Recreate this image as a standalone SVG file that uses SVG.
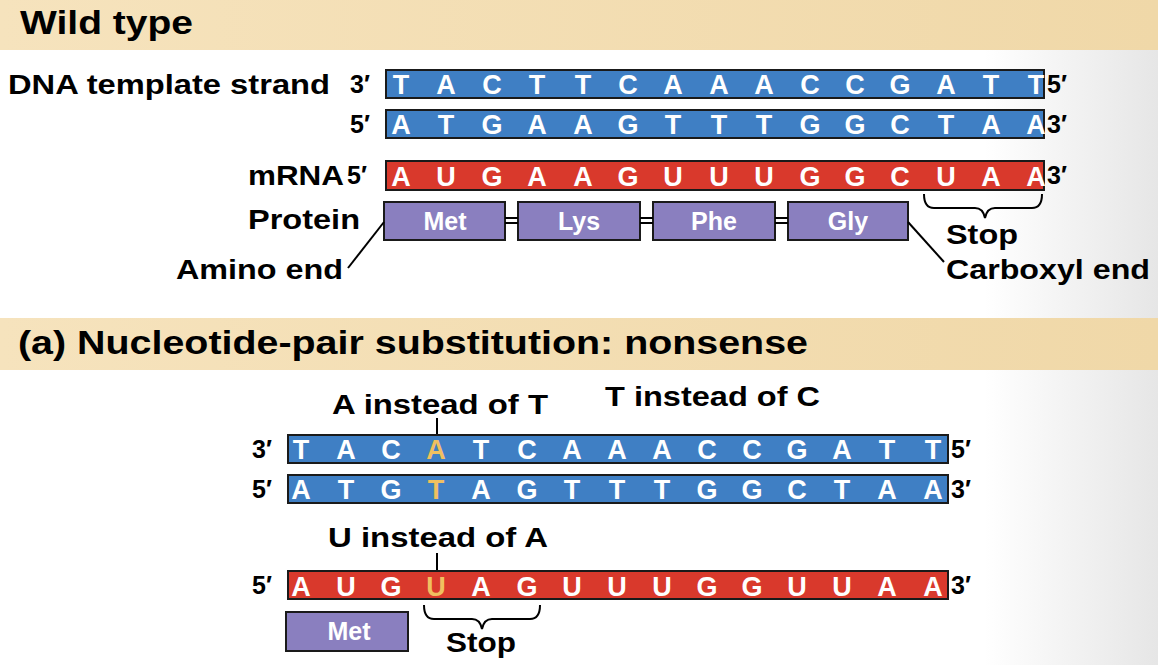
<svg xmlns="http://www.w3.org/2000/svg" width="1158" height="665" viewBox="0 0 1158 665">
<defs>
<linearGradient id="bg" x1="0" x2="1"><stop offset="0" stop-color="#ffffff"/><stop offset="0.85" stop-color="#ffffff"/><stop offset="1" stop-color="#e6e6e6"/></linearGradient>
<linearGradient id="hb" x1="0" x2="1"><stop offset="0" stop-color="#f6e3bd"/><stop offset="1" stop-color="#f0d8a8"/></linearGradient>
</defs>
<style>
text{font-family:"Liberation Sans",Arial,sans-serif;font-weight:bold}
.hd{font-size:34px;fill:#000}
.lb{font-size:28px;fill:#000}
.end{font-size:25px;fill:#000}
.dna{fill:#3f7fc4;stroke:#1a1a1a;stroke-width:2}
.rna{fill:#d9392c;stroke:#1a1a1a;stroke-width:2}
.pr{fill:#8a7fbf;stroke:#1a1a1a;stroke-width:2}
.seq{font-size:27px;fill:#fff;text-anchor:middle}
.pt{font-size:25px;fill:#fff;text-anchor:middle}
.hl{fill:#f0c060}
.ln{stroke:#000;stroke-width:2;fill:none}
</style>
<rect width="1158" height="665" fill="url(#bg)"/>
<rect x="0" y="0" width="1158" height="50" fill="url(#hb)"/>
<text class="hd" x="20" y="34" textLength="173" lengthAdjust="spacingAndGlyphs">Wild type</text>
<rect x="0" y="318" width="1158" height="52" fill="url(#hb)"/>
<text class="hd" x="18" y="354" textLength="790" lengthAdjust="spacingAndGlyphs">(a) Nucleotide-pair substitution: nonsense</text>

<g id="wt-template">
<text class="lb" x="8" y="94" textLength="322" lengthAdjust="spacingAndGlyphs">DNA template strand</text>
<text class="end" x="350" y="93">3′</text>
<rect class="dna" x="386" y="70" width="658" height="28"/>
<text class="seq" y="94"><tspan x="401">T</tspan><tspan x="446">A</tspan><tspan x="492">C</tspan><tspan x="537">T</tspan><tspan x="583">T</tspan><tspan x="628">C</tspan><tspan x="673">A</tspan><tspan x="719">A</tspan><tspan x="764">A</tspan><tspan x="810">C</tspan><tspan x="855">C</tspan><tspan x="900">G</tspan><tspan x="946">A</tspan><tspan x="991">T</tspan><tspan x="1036">T</tspan></text>
<text class="end" x="1047" y="93">5′</text>
</g>
<g id="wt-coding">
<text class="end" x="350" y="133">5′</text>
<rect class="dna" x="386" y="110" width="658" height="28"/>
<text class="seq" y="134"><tspan x="401">A</tspan><tspan x="446">T</tspan><tspan x="492">G</tspan><tspan x="537">A</tspan><tspan x="583">A</tspan><tspan x="628">G</tspan><tspan x="673">T</tspan><tspan x="719">T</tspan><tspan x="764">T</tspan><tspan x="810">G</tspan><tspan x="855">G</tspan><tspan x="900">C</tspan><tspan x="946">T</tspan><tspan x="991">A</tspan><tspan x="1036">A</tspan></text>
<text class="end" x="1047" y="133">3′</text>
</g>
<g id="wt-mrna">
<text class="lb" x="248" y="185" textLength="96" lengthAdjust="spacingAndGlyphs">mRNA</text>
<text class="end" x="347" y="184">5′</text>
<rect class="rna" x="386" y="161" width="658" height="29"/>
<text class="seq" y="186"><tspan x="401">A</tspan><tspan x="446">U</tspan><tspan x="492">G</tspan><tspan x="537">A</tspan><tspan x="583">A</tspan><tspan x="628">G</tspan><tspan x="673">U</tspan><tspan x="719">U</tspan><tspan x="764">U</tspan><tspan x="810">G</tspan><tspan x="855">G</tspan><tspan x="900">C</tspan><tspan x="946">U</tspan><tspan x="991">A</tspan><tspan x="1036">A</tspan></text>
<text class="end" x="1047" y="184">3′</text>
</g>
<g id="wt-protein">
<text class="lb" x="248" y="229" textLength="112" lengthAdjust="spacingAndGlyphs">Protein</text>
<rect class="pr" x="384" y="202" width="121" height="38"/><text class="pt" x="445" y="230">Met</text>
<rect class="pr" x="518" y="202" width="122" height="38"/><text class="pt" x="579" y="230">Lys</text>
<rect class="pr" x="653" y="202" width="122" height="38"/><text class="pt" x="714" y="230">Phe</text>
<rect class="pr" x="788" y="202" width="120" height="38"/><text class="pt" x="848" y="230">Gly</text>
<text class="lb" x="176" y="279" textLength="167" lengthAdjust="spacingAndGlyphs">Amino end</text>
<text class="lb" x="946" y="279" textLength="204" lengthAdjust="spacingAndGlyphs">Carboxyl end</text>
<text class="lb" x="946" y="244" textLength="72" lengthAdjust="spacingAndGlyphs">Stop</text>
</g>
<g id="mut-template">
<text class="lb" x="332" y="414" textLength="216" lengthAdjust="spacingAndGlyphs">A instead of T</text>
<text class="lb" x="605" y="406" textLength="215" lengthAdjust="spacingAndGlyphs">T instead of C</text>
<text class="end" x="252" y="458">3′</text>
<rect class="dna" x="288" y="435" width="660" height="28"/>
<text class="seq" y="459"><tspan x="301">T</tspan><tspan x="346">A</tspan><tspan x="391">C</tspan><tspan x="436" class="hl">A</tspan><tspan x="481">T</tspan><tspan x="527">C</tspan><tspan x="572">A</tspan><tspan x="617">A</tspan><tspan x="662">A</tspan><tspan x="707">C</tspan><tspan x="752">C</tspan><tspan x="797">G</tspan><tspan x="842">A</tspan><tspan x="887">T</tspan><tspan x="933">T</tspan></text>
<text class="end" x="951" y="458">5′</text>
</g>
<g id="mut-coding">
<text class="end" x="252" y="498">5′</text>
<rect class="dna" x="288" y="475" width="660" height="28"/>
<text class="seq" y="499"><tspan x="301">A</tspan><tspan x="346">T</tspan><tspan x="391">G</tspan><tspan x="436" class="hl">T</tspan><tspan x="481">A</tspan><tspan x="527">G</tspan><tspan x="572">T</tspan><tspan x="617">T</tspan><tspan x="662">T</tspan><tspan x="707">G</tspan><tspan x="752">G</tspan><tspan x="797">C</tspan><tspan x="842">T</tspan><tspan x="887">A</tspan><tspan x="933">A</tspan></text>
<text class="end" x="951" y="498">3′</text>
</g>
<g id="mut-mrna">
<text class="lb" x="328" y="547" textLength="220" lengthAdjust="spacingAndGlyphs">U instead of A</text>
<text class="end" x="252" y="594">5′</text>
<rect class="rna" x="288" y="571" width="660" height="28"/>
<text class="seq" y="596"><tspan x="301">A</tspan><tspan x="346">U</tspan><tspan x="391">G</tspan><tspan x="436" class="hl">U</tspan><tspan x="481">A</tspan><tspan x="527">G</tspan><tspan x="572">U</tspan><tspan x="617">U</tspan><tspan x="662">U</tspan><tspan x="707">G</tspan><tspan x="752">G</tspan><tspan x="797">U</tspan><tspan x="842">U</tspan><tspan x="887">A</tspan><tspan x="933">A</tspan></text>
<text class="end" x="951" y="594">3′</text>
</g>
<g id="mut-protein">
<rect class="pr" x="286" y="612" width="122" height="39"/><text class="pt" x="349" y="640">Met</text>
<text class="lb" x="446" y="652" textLength="70" lengthAdjust="spacingAndGlyphs">Stop</text>
</g>
<g id="connectors">
<path class="ln" d="M505 218H518M505 223H518M640 218H653M640 223H653M775 218H788M775 223H788"/>
<path class="ln" d="M384 222L348 268"/>
<path class="ln" d="M908 222L944 262"/>
<path class="ln" d="M924 194Q924 208 934 208H975Q983 208 985 218Q987 208 995 208H1032Q1042 208 1042 194"/>
<path class="ln" d="M424 605Q424 619 434 619H472Q480 619 482 629Q484 619 492 619H530Q540 619 540 605"/>
<path class="ln" d="M437 418V434M437 553V570"/>
</g>
</svg>
